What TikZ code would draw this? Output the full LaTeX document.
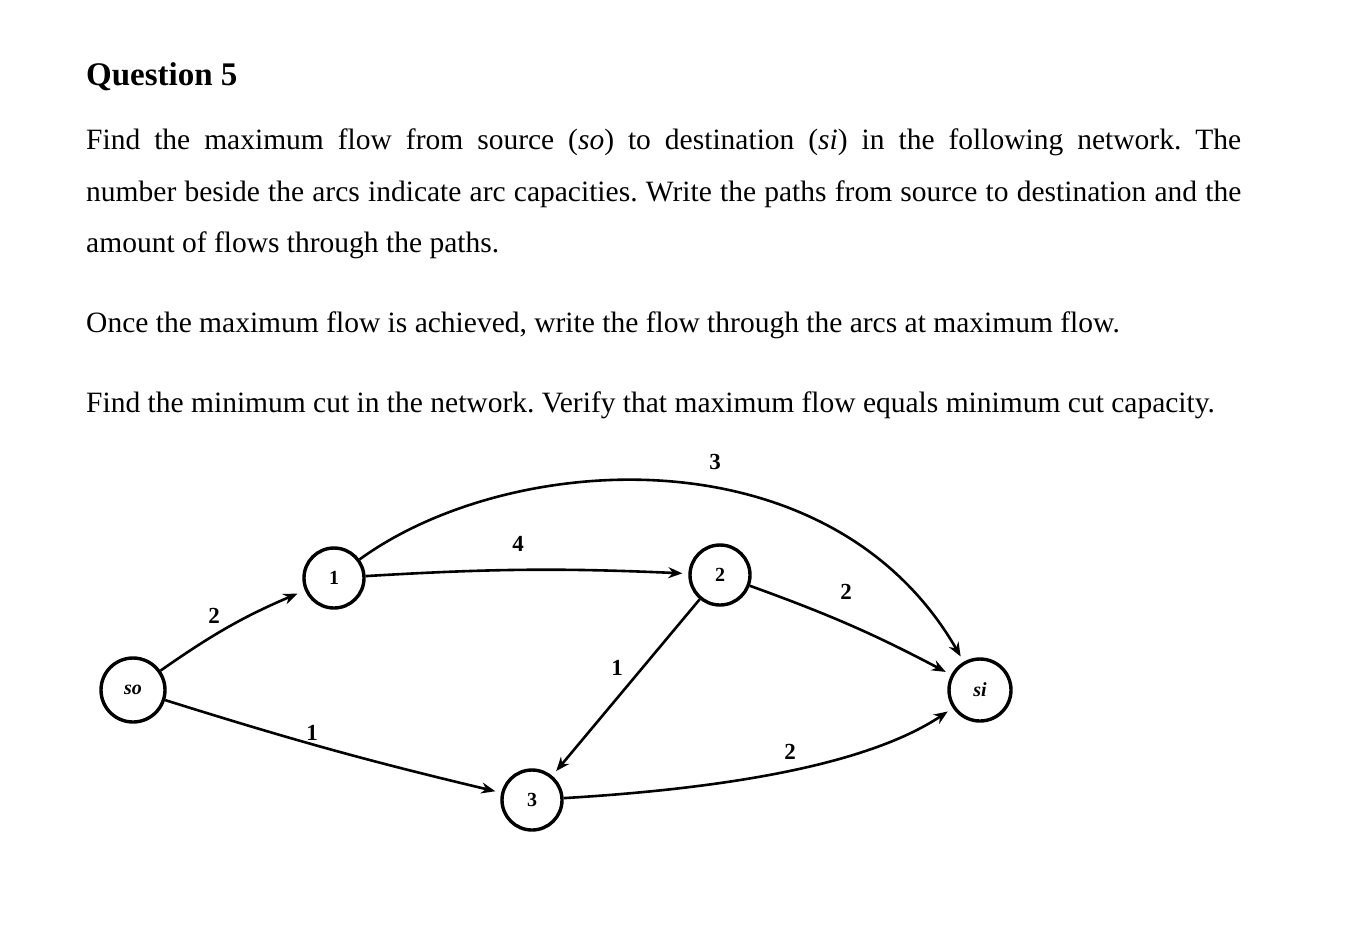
\documentclass[tikz,border=0pt]{standalone}
\usepackage{fontspec}
\setmainfont{Liberation Serif}
\usetikzlibrary{arrows.meta}
\begin{document}
\frenchspacing
\begin{tikzpicture}[x=1pt,y=-1pt,
  vtx/.style={circle,draw,line width=3.4pt,minimum size=60pt,inner sep=0pt,font=\fontsize{20}{20}\selectfont\bfseries},
  arc/.style={line width=2.6pt,-{Stealth[length=14pt,width=11pt]},shorten >=6pt},
  lab/.style={font=\fontsize{23}{23}\selectfont\bfseries,inner sep=0pt},
  txt/.style={anchor=base west,inner sep=0pt,font=\fontsize{29.5}{29.5}\selectfont}]
\useasboundingbox (0,0) rectangle (1370,930);
\node[txt,font=\fontsize{33}{33}\selectfont\bfseries] (q) at (86,85) {Question 5};
\node[txt] (l1) at (86,149) {\hbox to 1155pt{\spaceskip=0pt plus 1fil Find the maximum flow from source (\textit{so}) to destination (\textit{si}) in the following network. The}};
\node[txt] (l2) at (86,201) {\hbox to 1155pt{\spaceskip=0pt plus 1fil number beside the arcs indicate arc capacities. Write the paths from source to destination and the}};
\node[txt] (l3) at (86,252) {amount of flows through the paths.};
\node[txt] (l4) at (86,332) {Once the maximum flow is achieved, write the flow through the arcs at maximum flow.};
\node[txt] (l5) at (86,412) {Find the minimum cut in the network. Verify that maximum flow equals minimum cut capacity.};
\node[vtx,minimum size=64pt] (so) at (133,690) {\itshape so};
\node[vtx] (n1) at (334,578) {1};
\node[vtx] (n2) at (720,575) {2};
\node[vtx] (n3) at (532,800) {3};
\node[vtx,minimum size=62pt] (si) at (980,690) {\itshape si};
\draw[arc,shorten >=8pt] (so) to[bend left=6] (n1);
\draw[arc] (so) to[bend right=2] (n3);
\draw[arc] (n1) to[bend left=3] (n2);
\draw[arc] (n1) .. controls (510,450) and (830,430) .. (si);
\draw[arc] (n2) -- (n3);
\draw[arc] (n2) to[bend left=4] (si);
\draw[arc] (n3) .. controls (700,790) and (860,770) .. (si);
\node[lab] (c1) at (214,616) {2};
\node[lab] (c2) at (312,733) {1};
\node[lab] (c3) at (518,544) {4};
\node[lab] (c4) at (715,462) {3};
\node[lab] (c5) at (617,668) {1};
\node[lab] (c6) at (846,592) {2};
\node[lab] (c7) at (790,752) {2};
\end{tikzpicture}
\end{document}
